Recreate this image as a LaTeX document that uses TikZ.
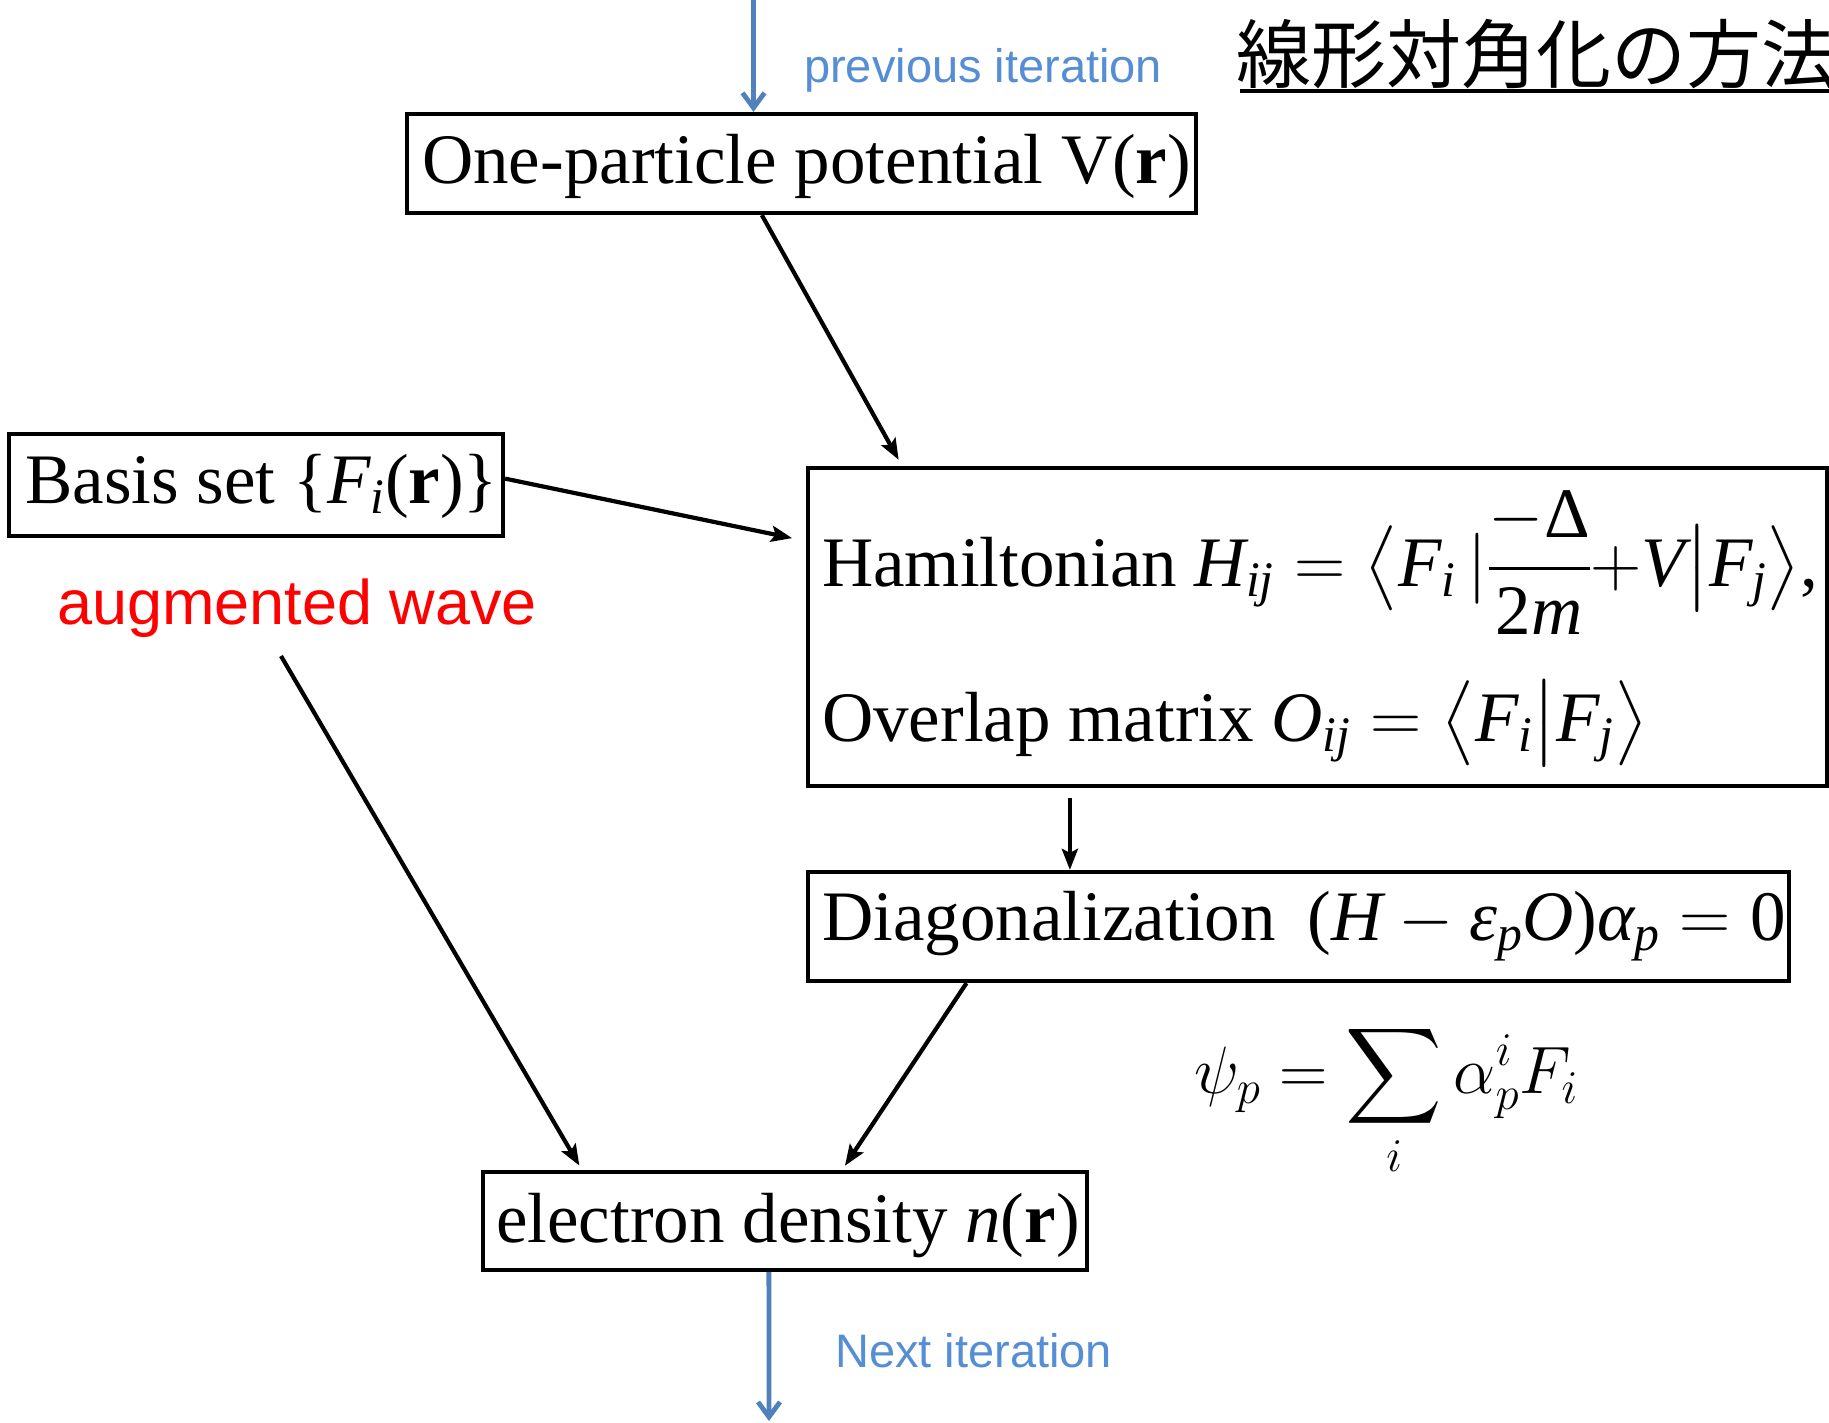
\RequirePackage{fix-cm}
\documentclass[tikz,border=0pt]{standalone}
\usepackage{amsmath}
\usepackage{fontspec}
\setmainfont{Liberation Serif}
\newfontfamily\arialfont{Liberation Sans}
\newfontfamily\cjkfont{Noto Sans CJK JP}
\DeclareFontShape{OMX}{cmex}{m}{n}{<->cmex10}{}
\usetikzlibrary{arrows.meta,calc}
\definecolor{flowblue}{RGB}{79,129,189}
\definecolor{labelblue}{RGB}{85,142,213}
\newcommand{\ti}[1]{\textit{#1}}
\newcommand{\boxfont}{\fontsize{71}{80}\selectfont}
\begin{document}
\begin{tikzpicture}[x=1pt,y=-1pt,
  box/.style={draw=black, line width=4.2pt, inner sep=0pt},
  txt/.style={anchor=base west, inner sep=0pt, font=\boxfont},
  lbl/.style={anchor=base west, inner sep=0pt},
  conn/.style={line width=4.2pt, -{Stealth[length=21pt,width=16pt,inset=4pt]}},
  flow/.style={line width=4.8pt, draw=flowblue, -{Straight Barb[length=15pt,width=22pt]}}]
\useasboundingbox (0,0) rectangle (1829,1422);
\fill[white] (0,0) rectangle (1829,1422);

% boxes
\node[box, minimum width=789pt, minimum height=99pt] (b1) at (801.5,163.5) {};
\node[box, minimum width=494pt, minimum height=102pt] (b2) at (256,485) {};
\node[box, minimum width=1019pt, minimum height=318pt] (b3) at (1317.5,627) {};
\node[box, minimum width=981pt, minimum height=109pt] (b4) at (1298.5,926.5) {};
\node[box, minimum width=604pt, minimum height=98pt] (b5) at (785,1221) {};

% box texts
\node[txt] (t1) at (422,183) {One-particle potential V(\textbf{r})};
\node[txt] (t2) at (25,503) {Basis set \{$\ti{F}_{\ti{i}}$(\textbf{r})\}};
\node[txt] (h1) at (822,586) {Hamiltonian $\ti{H}_{\ti{ij}} = \big\langle \ti{F}_{\ti{i}}\,| \dfrac{-\textrm{Δ}}{\textrm{2}\ti{m}} {+} \ti{V} \big| \ti{F}_{\ti{j}} \big\rangle$,};
\node[txt] (h2) at (822,741) {Overlap matrix $\ti{O}_{\ti{ij}} = \big\langle \ti{F}_{\ti{i}} \big| \ti{F}_{\ti{j}} \big\rangle$};
\node[txt] (d1) at (822,940) {Diagonalization\hspace{0.45em}$\textrm{(}\ti{H} - \ti{ε}_{\ti{p}}\ti{O}\textrm{)}\ti{α}_{\ti{p}} = \textrm{0}$};
\node[txt] (e1) at (496,1242) {electron density $\ti{n}$(\textbf{r})};

% labels
\node[lbl, font=\arialfont\fontsize{63}{70}\selectfont, text=red] (aw) at (57,624) {augmented wave};
\node[lbl, font=\arialfont\fontsize{47}{55}\selectfont, text=labelblue] (prev) at (804,82) {previous iteration};
\node[lbl, font=\arialfont\fontsize{47}{55}\selectfont, text=labelblue] (next) at (835,1367) {Next iteration};
\node[lbl, font=\cjkfont\fontsize{75}{80}\selectfont] (title) at (1236,82) {線形対角化の方法};
\draw[line width=4pt] ($(title.base west)+(4,9)$) -- ($(title.base west)+(593,9)$);
\node[lbl, font=\fontsize{67}{72}\selectfont] (psi) at (1194,1093) {$\displaystyle\psi_p = \sum_i \alpha_p^i F_i$};

% blue flow arrows
\coordinate (topin) at (753.5,0);
\draw[flow] (topin) -- (topin |- b1.north);
\coordinate (botout) at (769,1421);
\draw[flow] ($(b5.south west)!0.4735!(b5.south east)$) -- (botout);

% black connectors
\draw[conn, shorten >=7pt] ($(b1.south west)!0.45!(b1.south east)$) -- ($(b3.north west)!0.094!(b3.north east)$);
\draw[conn, shorten >=14pt] ($(b2.north east)!0.44!(b2.south east)$) -- ($(b3.north west)!0.233!(b3.south west)$);
\coordinate (awtail) at (281,656);
\draw[conn, shorten >=5pt] (awtail) -- ($(b5.north west)!0.166!(b5.north east)$);
\coordinate (a4s) at ($(b3.south west)!0.258!(b3.south east)$);
\draw[conn, shorten <=10pt] (a4s) -- (a4s |- b4.north);
\draw[conn, shorten >=5pt] ($(b4.south west)!0.163!(b4.south east)$) -- ($(b5.north west)!0.594!(b5.north east)$);
\end{tikzpicture}
\end{document}
